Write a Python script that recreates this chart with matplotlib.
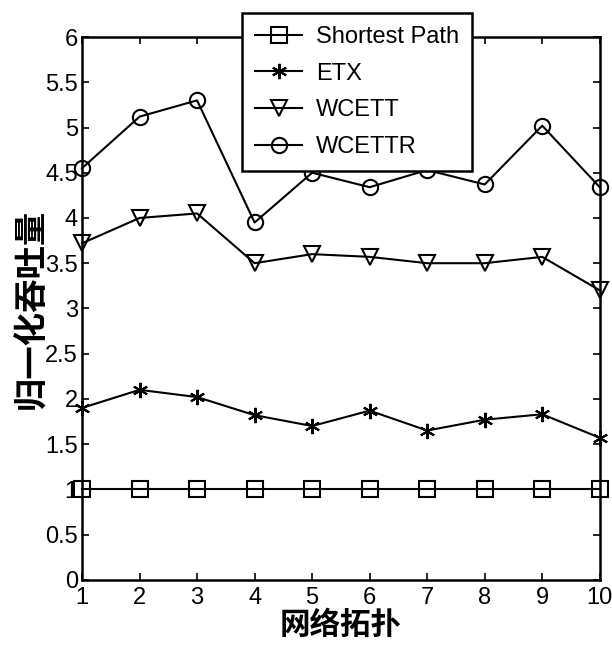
import matplotlib
matplotlib.use("Agg")
import matplotlib.pyplot as plt

topology = [1, 2, 3, 4, 5, 6, 7, 8, 9, 10]
shortest_path = [1, 1, 1, 1, 1, 1, 1, 1, 1, 1]
etx = [1.9, 2.1, 2.02, 1.82, 1.7, 1.87, 1.65, 1.77, 1.83, 1.57]
wcett = [3.72, 4.0, 4.05, 3.5, 3.6, 3.57, 3.5, 3.5, 3.57, 3.2]
wcettr = [4.55, 5.12, 5.3, 3.95, 4.5, 4.34, 4.53, 4.37, 5.02, 4.34]
yticks = [0, 0.5, 1, 1.5, 2, 2.5, 3, 3.5, 4, 4.5, 5, 5.5, 6]
ytick_labels = ["0", "0.5", "1", "1.5", "2", "2.5", "3", "3.5", "4", "4.5", "5", "5.5", "6"]
series_names = ["Shortest Path", "ETX", "WCETT", "WCETTR"]

plt.rcParams['font.family'] = ['Liberation Sans', 'DejaVu Sans']

fig = plt.figure(figsize=(6.12, 6.5), dpi=100)
ax = fig.add_axes([0.134, 0.108, 0.846, 0.835])

kw = dict(color='black', linewidth=1.5, markerfacecolor='none', markeredgecolor='black',
          markeredgewidth=1.5, clip_on=False)
ax.plot(topology, shortest_path, marker='s', markersize=11, label=series_names[0], **kw)
ax.plot(topology, etx, marker=(6, 2, 0), markersize=11, label=series_names[1], **kw)
ax.plot(topology, wcett, marker='v', markersize=12, label=series_names[2], **kw)
ax.plot(topology, wcettr, marker='o', markersize=11, label=series_names[3], **kw)

ax.set_xlim(1, 10)
ax.set_ylim(0, 6)
ax.set_xticks(topology)
ax.set_xticklabels([str(t) for t in topology])
ax.set_yticks(yticks)
ax.set_yticklabels(ytick_labels)
ax.tick_params(direction='in', top=True, right=True, length=5, width=1.2, labelsize=17)
ax.tick_params(axis='x', pad=5)
ax.tick_params(axis='y', pad=3)
for s in ax.spines.values():
    s.set_linewidth(1.8)

ax.set_xlabel("网络拓扑", family=['Noto Sans CJK SC'], fontsize=22, fontweight='bold', labelpad=0)
ax.set_ylabel("归一化吞吐量", family=['Noto Sans CJK SC'], fontsize=24, fontweight='bold', labelpad=-2)

leg = ax.legend(loc='upper left', bbox_to_anchor=(0.376, 0.998), bbox_transform=fig.transFigure,
                fontsize=17, frameon=True, fancybox=False, edgecolor='black', framealpha=1,
                handlelength=2.0, labelspacing=0.62, borderpad=0.55, handletextpad=0.6)
leg.get_frame().set_linewidth(1.8)
leg.set_zorder(10)

fig.savefig("out.png", dpi=100)
